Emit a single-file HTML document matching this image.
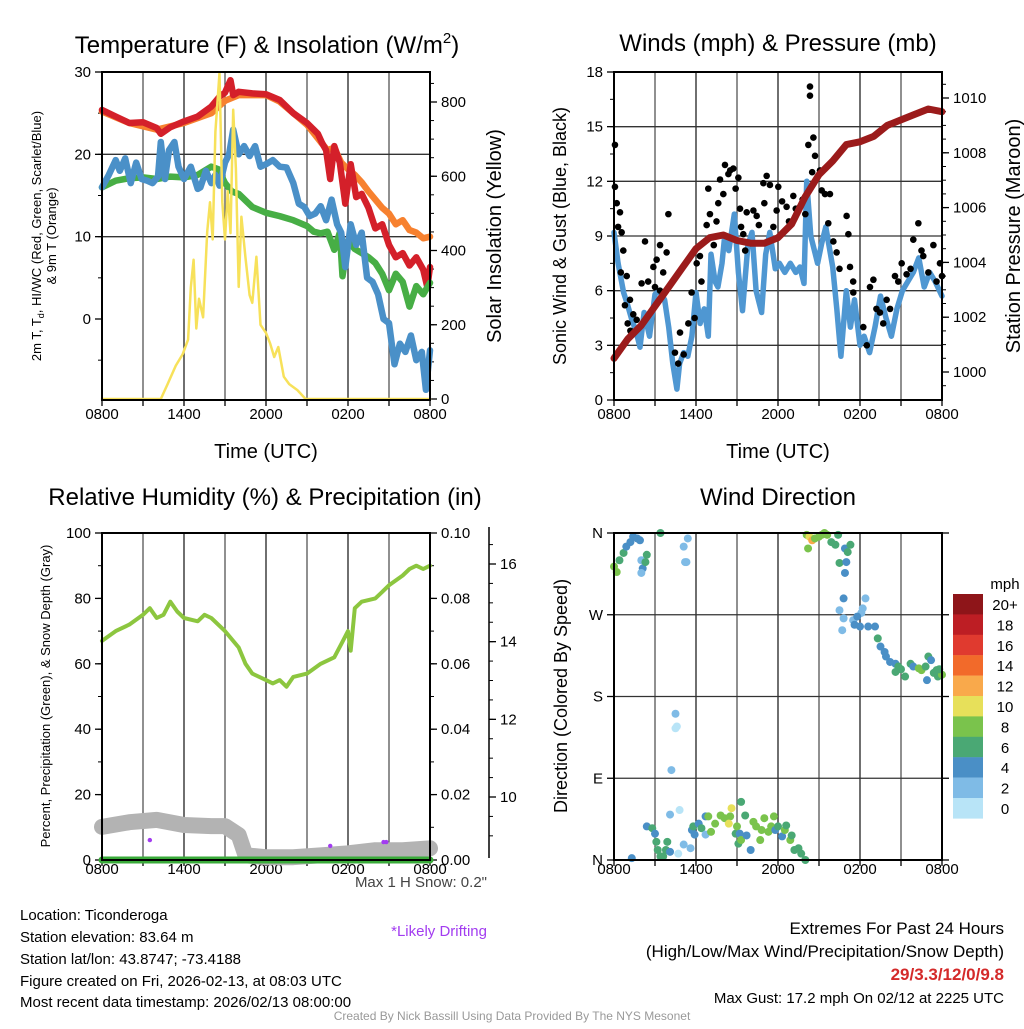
<!DOCTYPE html>
<html><head><meta charset="utf-8"><style>
body{margin:0;background:#fff;}
svg text{font-family:"Liberation Sans",sans-serif;fill:#000;}
</style></head><body>
<svg id="root" xmlns="http://www.w3.org/2000/svg" width="1024" height="1024" viewBox="0 0 1024 1024">
<rect width="1024" height="1024" fill="#fff"/>
<g id="g1"></g>
<g id="g2"></g>
<g id="g3"></g>
<g id="g4"></g>
<g font-size="24">
<text x="267" y="53" text-anchor="middle">Temperature (F) &amp; Insolation (W/m<tspan font-size="15" dy="-10">2</tspan><tspan dy="10">)</tspan></text>
<text x="778" y="51" text-anchor="middle">Winds (mph) &amp; Pressure (mb)</text>
<text x="265" y="505" text-anchor="middle">Relative Humidity (%) &amp; Precipitation (in)</text>
<text x="778" y="505" text-anchor="middle">Wind Direction</text>
</g>
<g font-size="20">
<text x="266" y="458" text-anchor="middle">Time (UTC)</text>
<text x="778" y="458" text-anchor="middle">Time (UTC)</text>
<text transform="translate(501,236) rotate(-90)" text-anchor="middle">Solar Insolation (Yellow)</text>
<text transform="translate(1020,236) rotate(-90)" text-anchor="middle">Station Pressure (Maroon)</text>
</g>
<text transform="translate(566,236) rotate(-90)" text-anchor="middle" font-size="18">Sonic Wind &amp; Gust (Blue, Black)</text>
<text transform="translate(567,696) rotate(-90)" text-anchor="middle" font-size="18">Direction (Colored By Speed)</text>
<text transform="translate(41,236) rotate(-90)" text-anchor="middle" font-size="13">2m T, T<tspan font-size="9" dy="3">d</tspan><tspan dy="-3">, HI/WC (Red, Green, Scarlet/Blue)</tspan></text>
<text transform="translate(56,236) rotate(-90)" text-anchor="middle" font-size="13">&amp; 9m T (Orange)</text>
<text transform="translate(50,696) rotate(-90)" text-anchor="middle" font-size="13">Percent, Precipitation (Green), &amp; Snow Depth (Gray)</text>
<g font-size="15">
<text x="20" y="920">Location: Ticonderoga</text>
<text x="20" y="942">Station elevation: 83.64 m</text>
<text x="20" y="964">Station lat/lon: 43.8747; -73.4188</text>
<text x="20" y="986">Figure created on Fri, 2026-02-13, at 08:03 UTC</text>
<text x="20" y="1007">Most recent data timestamp: 2026/02/13 08:00:00</text>
<text x="487" y="887" text-anchor="end" style="fill:#444">Max 1 H Snow: 0.2"</text>
<text x="487" y="936" text-anchor="end" style="fill:#a23cf0">*Likely Drifting</text>
<text x="1004" y="1003" text-anchor="end">Max Gust: 17.2 mph On 02/12 at 2225 UTC</text>
</g>
<g font-size="17">
<text x="1004" y="934" text-anchor="end">Extremes For Past 24 Hours</text>
<text x="1004" y="957" text-anchor="end">(High/Low/Max Wind/Precipitation/Snow Depth)</text>
<text x="1004" y="980" text-anchor="end" font-weight="bold" style="fill:#d42a2a">29/3.3/12/0/9.8</text>
</g>
<text x="512" y="1020" text-anchor="middle" font-size="12" style="fill:#999">Created By Nick Bassill Using Data Provided By The NYS Mesonet</text>
</svg>
<script>
// ---- Panel 1 data ----
const redH=[0,1,2,3,4,4.3,5,6,7,8,8.6,9,9.4,9.6,10,11,12,13,14,15,15.8,16.1,16.4,16.7,17,17.4,17.8,18.2,18.6,19,19.5,20,20.5,21,21.5,22,22.5,23,23.5,23.8,24];
const redT=[25.4,24.6,23.8,23.9,23.2,22.5,23.3,24,24.6,25.8,27,27.5,29,27.2,27.6,27.4,27.3,26.6,25,23.8,22.5,21.4,20.5,17,21,19,14,18.8,14.8,15.2,13.5,11,11.5,9,7.5,8,6.5,7.5,6,3.9,6.3];
const orangeH=[0,2,4,6,8,9,10,12,13,14,15,16,16.5,17,17.5,18,18.5,19,19.5,20,20.5,21,21.5,22,22.5,23,23.5,24];
const orangeT=[25.2,23.8,23,23.8,25,26.5,27.2,27.2,26.4,25,23.6,21.5,20.5,20.8,19,18.2,17.5,16.6,15.5,14.5,13.5,12.8,11.5,12,10.8,10.5,9.8,10];
const greenH=[0,1,2,3,4,5,6,7,8,8.5,9,9.5,10,11,12,13,14,15,15.5,16,16.5,17,17.4,17.6,18,18.5,19,19.5,20,20.5,21,21.5,22,22.5,23,23.5,24];
const greenT=[16,16.8,17.1,17.2,17,17.3,17.2,17.5,18.5,18.2,16.5,15.5,15.2,13.6,12.9,12.5,12,11.3,10.6,10.4,10.6,8.4,10.5,5.2,9.5,8.5,8,7.5,6.8,5.5,3.5,5.5,4.5,1.5,4,3,4.4];
const blueH=[0,0.5,1,1.3,1.7,2.1,2.5,2.9,3.3,3.7,4.1,4.3,4.6,4.9,5.3,5.6,6,6.5,7,7.2,7.6,8,8.3,8.6,9,9.3,9.6,10,10.4,10.8,11.2,11.6,12,12.5,13,13.5,14,14.4,14.8,15.2,15.6,16,16.4,16.8,17.2,17.5,17.8,18.2,18.6,19,19.4,19.8,20.2,20.6,21,21.4,21.8,22.2,22.6,23,23.4,23.7,24];
const blueT=[16,17.5,19.3,18,19.5,16.5,19,17,16.8,16.5,17.3,21.5,17,20.5,21.5,18.5,17,18.5,15.8,16,18,16.5,17.5,16.2,19,20,23,20,21,19.8,21,18.5,18.8,19.3,18.5,18.4,16.5,14,13.6,12.5,12.8,13.7,12,14.5,11.5,10.5,6.3,11.5,9,10.5,5,4.5,3,0,-0.5,-5.5,-3,-4,-2,-5,-4,-8.6,-3.8];
const solarH=[0,4.3,4.8,5.4,5.9,6.3,6.5,6.7,6.9,7.1,7.4,7.7,7.9,8.1,8.3,8.6,8.8,9,9.2,9.4,9.6,9.8,10,10.2,10.5,10.8,11,11.3,11.6,12,12.3,12.6,12.9,13.3,13.7,14.3,14.9,24];
const solarW=[0,0,40,90,120,160,300,375,190,270,220,450,530,430,720,878,530,430,560,447,779,620,302,491,380,280,259,383,200,178,150,113,140,60,40,24,0,0];
const timeTicks=["0800","1400","2000","0200","0800"];
const tempTicks=[0,10,20,30];
const solarTicks=[0,200,400,600,800];
// ---- Panel 2 data ----
const windH=[0,0.3,0.7,1,1.3,1.6,1.9,2.2,2.6,3,3.3,3.7,4,4.3,4.6,4.8,5.1,5.4,5.7,6,6.3,6.6,6.9,7.1,7.4,7.6,7.9,8.1,8.4,8.8,9.1,9.4,9.8,10.1,10.4,10.8,11.1,11.4,11.8,12.1,12.5,12.9,13.3,13.6,13.9,14.1,14.4,14.9,15.2,15.5,16,16.3,16.6,17,17.3,17.6,18,18.3,18.7,19.1,19.5,19.9,20.3,20.7,21.1,21.5,21.9,22.3,22.7,23.1,23.5,24];
const windV=[9.2,7.5,5.9,5.2,4.4,3.8,2.9,4.8,3.5,5.8,6,5.5,4,2,0.6,2,2.6,2.4,3.5,5.9,4.2,5,3.5,8,6.5,6.2,7.5,9,8.2,10.2,7,4.9,8.5,9.2,6,4.8,8,9.2,7.2,7.5,7,7.5,7,7.3,6.4,12,9,7.5,8.6,9.5,7.3,5,2.4,6,4,5.5,3,3.5,2.6,4,5.7,4.5,3.5,5,6,6.5,7,7.8,6.2,7,6.5,5.7];
const gustH=[0.07,0.07,0.2,0.44,0.56,0.68,0.93,1.17,1.41,1.66,2.02,2.27,2.88,3.12,3.37,3.37,3.85,3.98,4.46,4.83,5.44,5.68,6.05,6.29,6.78,6.9,7.02,7.63,7.76,8.12,8.37,8.73,9.1,9.22,9.46,9.71,10.2,10.44,10.93,11.17,11.41,11.66,12.02,12.63,13.12,13.61,14.22,14.34,14.34,14.59,14.71,15.07,15.44,15.68,15.8,16.05,16.29,17.02,17.15,17.27,17.51,18.24,18.73,18.98,19.46,19.95,20.56,21.05,21.41,21.9,22.27,22.63,23.37,23.85,
 0.3,0.5,0.8,1.0,1.2,2.5,3.0,3.6,4.7,5.1,5.9,6.4,7.3,7.5,8.0,8.5,8.9,9.3,9.6,10.0,10.6,11.0,11.9,12.3,12.8,13.3,13.8,14.0,14.5,15.2,16.5,17.5,18.5,19.2,19.7,20.2,20.8,21.7,22.5,23.0,23.6,24];
const gustV=[14.0,11.7,10.8,10.3,9.2,8.2,6.8,5.5,4.7,4.4,6.4,8.7,7.3,7.7,8.5,6.0,8.1,10.2,2.6,3.7,4.2,5.9,7.5,7.9,9.6,11.6,10.2,10.8,12.1,12.9,12.4,12.7,12.2,10.5,9.1,10.3,10.4,10.1,11.9,12.3,11.8,9.5,11.7,10.6,11.2,10.6,14.0,16.7,17.2,14.4,13.4,12.6,11.3,9.7,11.3,8.7,8.1,10.1,9.1,7.3,5.9,4.0,6.2,6.6,4.8,5.5,6.8,7.5,6.9,8.8,9.7,7.9,8.5,7.5,
 9.5,7,5.2,4.2,3.8,6.5,6.2,7,2,2.5,4.5,6.5,8.5,9.8,11.3,12.6,11.6,9.5,8.2,8.6,9.6,10.8,10.4,10.9,9.8,10.5,11,10.2,12.5,11.5,7.2,6.5,3,5,4.2,5,6.5,7.2,8.2,7,6.5,6.8];
const presH=[0,1,2,3,4,5,6,7,8,9,10,11,12,13,14,15,16,17,18,19,20,21,22,23,24];
const presP=[1000.5,1001.2,1001.7,1002.4,1003.1,1003.8,1004.5,1004.9,1005.0,1004.8,1004.7,1004.7,1004.9,1005.4,1006.4,1007.2,1007.7,1008.3,1008.4,1008.6,1009.0,1009.2,1009.4,1009.6,1009.5];
const windTicks=[0,3,6,9,12,15,18];
const presTicks=[1000,1002,1004,1006,1008,1010];
// ---- Panel 3 data ----
const rhH=[0,1,2,3,3.5,4,4.5,5,5.5,6,7,7.5,8,9,10,10.5,11,12,12.5,13,13.5,14,15,16,17,17.5,18,18.2,18.5,19,20,20.5,21,22,22.5,23,23.5,24];
const rhV=[67,70,72,75,77,74,75,79,76,74,73,75,74,70,65,60,57,55,54,55,53,56,57,60,62,66,70,64,77,79,80,82,84,87,89,90,89,90];
const snowH=[0,2,4,6,8,9,10,10.5,12,14,16,18,20,22,24];
const snowD=[9.23,9.35,9.41,9.28,9.25,9.25,9.02,8.5,8.45,8.45,8.5,8.55,8.63,8.63,8.68];
const precipH=[0,24];
const precipV=[0,0];
const driftH=[3.5,16.7,20.6,20.8];
const driftD=[8.89,8.74,8.84,8.84];
const rhTicks=[0,20,40,60,80,100];
const precipTicks=["0.00","0.02","0.04","0.06","0.08","0.10"];
const snowTicks=[10,12,14,16];
// ---- Panel 4 data ----
const dirH=[0,0.2,0.4,0.7,0.9,1.2,1.4,1.7,1.9,2,2.1,2,2.3,2.4,3.4,5.1,5.4,5.2,5.3,4.5,4.6,4.5,4.2,4.8,4.1,4.7,5.6,5.1,1.3,2.4,2.8,3,3.1,3.2,3.4,3.6,3.9,3.8,4.1,5.7,5.8,6.2,6.7,6.9,6.4,6.7,5.9,7.1,7.4,7.8,8.1,8.5,8.6,8.4,8.9,9,9.2,9.3,9.6,9.1,9.3,9.7,10,10.2,10.4,10.7,10.8,11,11.3,11.5,11.7,11.8,12,12.3,12.5,12.6,12.9,13,13.2,13.5,13.7,14,14.1,14.3,14.5,14.7,15,15.2,15.4,15.6,14.2,15.9,16.2,16.4,16.9,17.1,17.3,16.5,17,16.9,16.8,16.5,16.8,16.7,18.4,18.2,18.1,17.5,17.8,18,17.6,18.6,19.1,19.3,19.5,19.8,19.9,20.2,20.6,20.8,20.6,21,21.3,21.7,21.9,22.3,22.5,22.8,22.9,23,23.2,23.4,23.6,23.7,24,23.8];
const dirD=[323,317,330,338,345,350,356,354,352,330,321,316,328,336,360,345,354,328,328,161,147,145,99,55,50,7,13,17,2,37,35,29,20,11,4,4,20,11,9,33,37,40,48,48,35,28,28,31,40,49,46,48,57,40,29,37,29,64,49,18,22,27,11,42,37,22,33,46,31,37,48,33,37,26,33,38,22,27,11,13,7,0,358,356,352,354,356,358,360,358,343,350,347,358,343,339,347,327,328,316,288,275,266,253,288,277,272,264,268,257,259,257,257,244,235,229,224,218,216,213,207,210,202,216,213,211,209,213,198,224,220,206,209,202,204,210];
const dirS=[8,8,6,6,4,4,4,4,4,2,4,2,6,6,6,2,2,2,2,2,0,0,2,0,2,0,2,2,4,4,6,4,6,6,6,6,6,6,4,4,6,4,4,7,6,2,4,7,7,7,7,7,10,10,6,7,4,6,6,6,7,4,4,7,7,7,7,7,7,7,7,4,6,4,7,6,7,6,6,6,6,6,7,10,12,8,8,7,7,7,7,6,6,6,4,6,6,6,4,4,4,2,2,2,2,2,2,2,4,4,4,4,4,6,4,4,4,4,4,6,6,6,6,6,4,7,7,6,4,6,4,6,6,6,7,6,6];
const speedLabels=["20+","18","16","14","12","10","8","6","4","2","0"];
const speedColors=["#8e1519","#bd1e24","#e03a2f","#f26a2a","#f9a94b","#e7e05a","#7ac34c","#4aa874","#4a8fc6","#7fbbe6","#b8e4f7"];
const dirTicks=["N","E","S","W","N"];

const NS="http://www.w3.org/2000/svg";
function mk(parent,tag,attrs){const e=document.createElementNS(NS,tag);for(const k in attrs)e.setAttribute(k,attrs[k]);parent.appendChild(e);return e;}
function txt(parent,x,y,s,anchor,size){const t=mk(parent,'text',{x:x,y:y,'text-anchor':anchor,'font-size':size});t.textContent=s;return t;}
function lin(a0,a1,p0,p1){return v=>p0+(v-a0)/(a1-a0)*(p1-p0);}
function poly(parent,H,V,xf,yf,color,w){const pts=H.map((h,i)=>xf(h).toFixed(1)+','+yf(V[i]).toFixed(1)).join(' ');return mk(parent,'polyline',{points:pts,fill:'none',stroke:color,'stroke-width':w,'stroke-linejoin':'round','stroke-linecap':'round'});}

function frame(g,L,T,R,B,xf,hLines,yf,labOff){
  for(let h=3;h<24;h+=3){const l=mk(g,'line',{x1:xf(h),x2:xf(h),y1:T,y2:B,stroke:(h%6==0?'#222':'#555'),'stroke-width':1.3});
    
    }
  hLines.forEach(v=>{const l=mk(g,'line',{x1:L,x2:R,y1:yf(v),y2:yf(v),stroke:'#333','stroke-width':1.3});
    
    });
  for(let h=0;h<=24;h+=3){const t=mk(g,'line',{x1:xf(h),x2:xf(h),y1:B,y2:B+6,stroke:'#000','stroke-width':1.3});
    
    }
  timeTicks.forEach((s,i)=>{const t=txt(g,xf(i*6),B+labOff,s,'middle',15);
    
    });
}
function border(g,L,T,R,B){const r=mk(g,'rect',{x:L,y:T,width:R-L,height:B-T,fill:'none',stroke:'#000','stroke-width':2});
  
  }
function yTicks(g,x,dir,vals,yf,labels,minorStep,lo,hi){
  if(minorStep){for(let v=lo;v<=hi+1e-9;v+=minorStep){const t=mk(g,'line',{x1:x,x2:x+dir*4,y1:yf(v),y2:yf(v),stroke:'#000','stroke-width':1});
    
    }}
  vals.forEach((v,i)=>{const t=mk(g,'line',{x1:x,x2:x+dir*7,y1:yf(v),y2:yf(v),stroke:'#000','stroke-width':1.3});
    
    
    const l=txt(g,x+dir*11,yf(v)+5,labels?labels[i]:String(v),dir<0?'end':'start',15);
    
    });
}

// Panel 1
(function(){
  const g=document.getElementById('g1');const L=102,T=72,R=430,B=400;
  const xf=lin(0,24,L,R), yf=lin(0,30,319,72), sf=lin(0,800,399,102);
  frame(g,L,T,R,B,xf,[10,20],yf,19);
  yTicks(g,L,-1,tempTicks,yf,null,5,-5,30);
  yTicks(g,R,1,solarTicks,sf,null,50,0,850);
  const o=poly(g,orangeH,orangeT,xf,yf,'#f7812f',6.5);
  
  
  const r=poly(g,redH,redT,xf,yf,'#d4202a',6.5);
  
  
  const gr=poly(g,greenH,greenT,xf,yf,'#47ae45',6.5);
  
  
  const b=poly(g,blueH,blueT,xf,yf,'#4a90c8',6.5);
  
  
  const y=poly(g,solarH,solarW,xf,sf,'#f7e15a',2.5);
  
  
  border(g,L,T,R,B);
})();

// Panel 2
(function(){
  const g=document.getElementById('g2');const L=614,T=72,R=942,B=400;
  const xf=lin(0,24,L,R), yf=lin(0,18,400,72), pf=lin(1000,1010,372,98);
  frame(g,L,T,R,B,xf,[3,6,9,12,15],yf,19);
  yTicks(g,L,-1,windTicks,yf,null,1.5,0,18);
  yTicks(g,R,1,presTicks,pf,null,0.5,999.5,1010.5);
  const b=poly(g,windH,windV,xf,yf,'#4f97d2',5.5);
  
  
  gustH.forEach((h,i)=>{const c=mk(g,'circle',{cx:xf(h),cy:yf(gustV[i]),r:3.3,fill:'#000'});
    
    });
  const p=poly(g,presH,presP,xf,pf,'#9b1b1b',7);
  
  
  border(g,L,T,R,B);
})();

// Panel 3
(function(){
  const g=document.getElementById('g3');const L=102,T=533,R=430,B=860;
  const xf=lin(0,24,L,R), yf=lin(0,100,860,533), sf=lin(10,16,797,564);
  frame(g,L,T,R,B,xf,[],yf,14);
  yTicks(g,L,-1,rhTicks,yf,null,10,0,100);
  yTicks(g,R,1,rhTicks,yf,precipTicks,10,0,100);
  const ax=mk(g,'line',{x1:489,x2:489,y1:527,y2:858,stroke:'#000','stroke-width':1.5});
  
  
  for(let v=9;v<=16.5;v+=0.5){const t=mk(g,'line',{x1:489,x2:493,y1:sf(v),y2:sf(v),stroke:'#000','stroke-width':1});
    
    }
  snowTicks.forEach(v=>{const t=mk(g,'line',{x1:489,x2:496,y1:sf(v),y2:sf(v),stroke:'#000','stroke-width':1.3});
    
    
    const l=txt(g,500,sf(v)+5,String(v),'start',15);
    
    });
  const s=poly(g,snowH,snowD,xf,sf,'#b3b3b3',16);
  
  
  const rh=poly(g,rhH,rhV,xf,yf,'#8cc63f',4);
  
  
  const pr=poly(g,precipH,precipV,xf,yf,'#3aaa3a',7);
  
  
  driftH.forEach((h,i)=>{const c=mk(g,'circle',{cx:xf(h),cy:sf(driftD[i]),r:2.2,fill:'#a23cf0'});
    
    });
  border(g,L,T,R,B);
})();

// Panel 4
(function(){
  const g=document.getElementById('g4');const L=614,T=533,R=942,B=860;
  const xf=lin(0,24,L,R), yf=lin(0,360,860,533);
  frame(g,L,T,R,B,xf,[90,180,270],yf,14);
  yTicks(g,L,-1,[0,90,180,270,360],yf,dirTicks,0,0,0);
  yTicks(g,R,1,[0,90,180,270,360],yf,["","","","",""],0,0,0);
  dirH.forEach((h,i)=>{const idx=10-Math.min(10,Math.round(dirS[i]/2));
    const c=mk(g,'circle',{cx:xf(h),cy:yf(dirD[i]),r:4,fill:speedColors[idx]});
    
    });
  border(g,L,T,R,B);
  const cb=mk(g,'g',{});
  
  
  const u=txt(cb,1005,589,'mph','middle',15);
  
  
  speedColors.forEach((c,i)=>{const y0=594+i*20.4;
    const r=mk(cb,'rect',{x:953,y:y0,width:30,height:20.6,fill:c});
    
    
    const l=txt(cb,1005,y0+16,speedLabels[i],'middle',15);
    
    });
})();
</script>
</body></html>
